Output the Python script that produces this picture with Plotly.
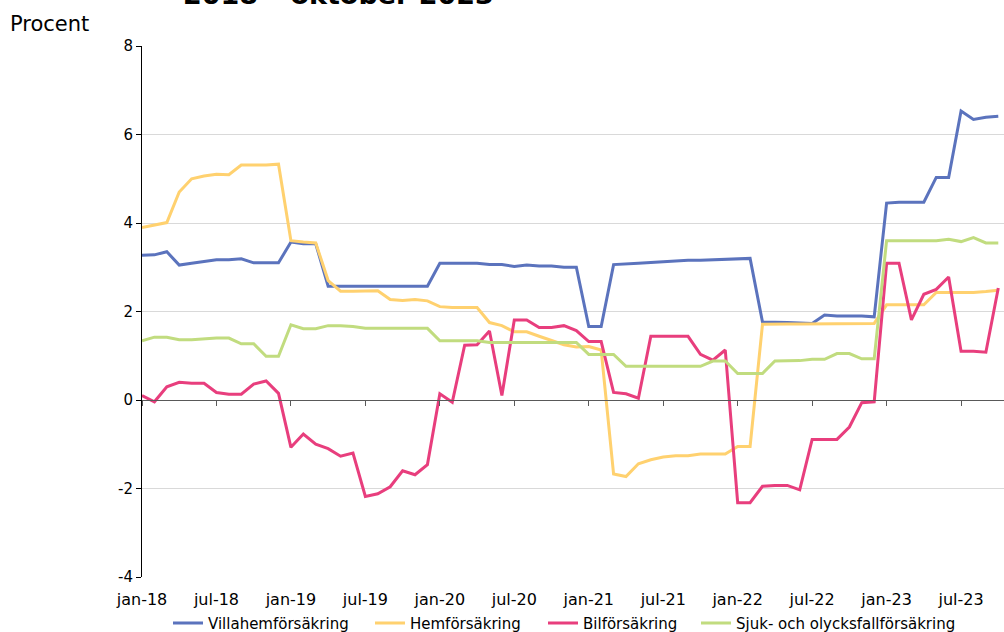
import plotly.graph_objects as go

# Monthly categories, jan-18 .. okt-23
month_abbr = ["jan", "feb", "mar", "apr", "maj", "jun",
              "jul", "aug", "sep", "okt", "nov", "dec"]
months = [f"{m}-{y:02d}" for y in range(18, 24) for m in month_abbr][:70]
tick_labels = months[::6]

y_ticks = [-4, -2, 0, 2, 4, 6, 8]
y_tick_text = ["-4", "-2", "0", "2", "4", "6", "8"]

# Annual price change, percent
villahem = [3.27, 3.28, 3.35, 3.05, 3.09, 3.13, 3.17, 3.17, 3.19, 3.10, 3.10, 3.10,
            3.57, 3.53, 3.53, 2.57, 2.57, 2.57, 2.57, 2.57, 2.57, 2.57, 2.57, 2.57,
            3.09, 3.09, 3.09, 3.09, 3.06, 3.06, 3.02, 3.05, 3.03, 3.03, 3.00, 3.00,
            1.66, 1.66, 3.06, 3.07, 3.09, 3.11, 3.13, 3.15, 3.16, 3.16, 3.17, 3.18,
            3.20, 3.20, 1.76, 1.76, 1.75, 1.74, 1.73, 1.92, 1.90, 1.90, 1.90, 1.88,
            4.45, 4.47, 4.47, 4.47, 5.03, 5.03, 6.53, 6.34, 6.39, 6.41]

hem = [3.90, 3.95, 4.01, 4.70, 5.00, 5.06, 5.10, 5.09, 5.31, 5.31, 5.31, 5.33,
       3.60, 3.57, 3.55, 2.70, 2.46, 2.46, 2.46, 2.47, 2.27, 2.25, 2.27, 2.24,
       2.11, 2.09, 2.09, 2.09, 1.75, 1.68, 1.54, 1.54, 1.44, 1.34, 1.25, 1.20,
       1.21, 1.13, -1.67, -1.73, -1.44, -1.35, -1.29, -1.26, -1.26, -1.22, -1.22, -1.22,
       -1.05, -1.05, 1.71, 1.72, 1.72, 1.72, 1.72, 1.72, 1.72, 1.72, 1.72, 1.73,
       2.15, 2.15, 2.15, 2.15, 2.43, 2.43, 2.43, 2.43, 2.45, 2.48]

bil = [0.10, -0.04, 0.30, 0.40, 0.38, 0.38, 0.17, 0.13, 0.13, 0.36, 0.43, 0.15,
       -1.07, -0.77, -1.00, -1.10, -1.27, -1.20, -2.18, -2.12, -1.96, -1.60, -1.69, -1.46,
       0.14, -0.05, 1.24, 1.25, 1.56, 0.10, 1.81, 1.81, 1.64, 1.64, 1.68, 1.57,
       1.32, 1.32, 0.17, 0.14, 0.04, 1.44, 1.44, 1.44, 1.44, 1.03, 0.90, 1.13,
       -2.32, -2.32, -1.95, -1.93, -1.93, -2.03, -0.89, -0.89, -0.89, -0.61, -0.06, -0.04,
       3.09, 3.09, 1.81, 2.39, 2.50, 2.78, 1.10, 1.10, 1.08, 2.53]

sjuk_olycksfall = [1.34, 1.42, 1.42, 1.36, 1.36, 1.38, 1.40, 1.40, 1.27, 1.27, 0.99, 0.99,
                   1.70, 1.61, 1.61, 1.68, 1.68, 1.66, 1.62, 1.62, 1.62, 1.62, 1.62, 1.62,
                   1.34, 1.34, 1.34, 1.34, 1.30, 1.30, 1.30, 1.30, 1.30, 1.30, 1.30, 1.30,
                   1.03, 1.03, 1.03, 0.76, 0.76, 0.76, 0.76, 0.76, 0.76, 0.76, 0.88, 0.88,
                   0.60, 0.60, 0.60, 0.88, 0.88, 0.89, 0.92, 0.92, 1.05, 1.05, 0.93, 0.93,
                   3.60, 3.60, 3.60, 3.60, 3.60, 3.63, 3.58, 3.67, 3.55, 3.55]

series = [
    ("Villahemförsäkring", villahem, "#5b73bd"),
    ("Hemförsäkring", hem, "#ffd16f"),
    ("Bilförsäkring", bil, "#e83e7d"),
    ("Sjuk- och olycksfallförsäkring", sjuk_olycksfall, "#c1dc7f"),
]

FONT = "DejaVu Sans"
PLOT_LEFT, PLOT_WIDTH = 142, 862

# One legend box per series so each entry sits at its own spot along the bottom
legend_ids = ["legend", "legend2", "legend3", "legend4"]
legend_text_x = [208, 410, 583, 736]   # left edge of each entry's label, px

fig = go.Figure()
for (name, values, color), lid in zip(series, legend_ids):
    fig.add_trace(go.Scatter(
        x=months, y=values, name=name, mode="lines",
        legend=lid,
        line=dict(color=color, width=3),
        hoverinfo="skip",
    ))

legend_boxes = {}
for lid, tx in zip(legend_ids, legend_text_x):
    legend_boxes[lid] = dict(
        orientation="h", xref="paper",
        x=(tx - 40 - PLOT_LEFT) / PLOT_WIDTH, xanchor="left",
        yref="container", y=0.04, yanchor="top",
        font=dict(family=FONT, size=15, color="#000000"),
        itemwidth=30, bgcolor="rgba(0,0,0,0)",
    )

fig.update_layout(
    width=1004, height=632,
    margin=dict(l=PLOT_LEFT, r=0, t=46, b=55, autoexpand=False),
    paper_bgcolor="white", plot_bgcolor="white",
    font=dict(family=FONT, size=15, color="#000000"),
    showlegend=True,
    **legend_boxes,
    xaxis=dict(
        type="category", categoryorder="array", categoryarray=months,
        range=[0, 69.46], automargin=False,
        anchor="free", position=1 / 3,
        showline=True, linecolor="#595959", linewidth=1,
        ticks="outside", ticklen=5, tickcolor="#595959",
        tickmode="array", tickvals=tick_labels, ticktext=tick_labels,
        ticklabelstandoff=180,
        tickfont=dict(family=FONT, size=16, color="#000000"),
        showgrid=False, zeroline=False,
    ),
    yaxis=dict(
        range=[-4, 8], automargin=False,
        tickmode="array", tickvals=y_ticks, ticktext=y_tick_text,
        showline=True, linecolor="#000000", linewidth=1,
        ticks="outside", ticklen=5, tickcolor="#000000",
        showgrid=True, gridcolor="#d9d9d9", gridwidth=1,
        zeroline=False,
        tickfont=dict(family=FONT, size=15, color="#000000"),
    ),
    annotations=[
        dict(text="<b>2018 – oktober 2023</b>", xref="paper", yref="paper",
             x=0.2274, y=1, xanchor="center", yanchor="bottom", yshift=34,
             showarrow=False, font=dict(family=FONT, size=27, color="#000000")),
        dict(text="Procent", xref="paper", yref="paper",
             x=-0.1555, y=1, xanchor="left", yanchor="bottom", yshift=8,
             showarrow=False, font=dict(family=FONT, size=21, color="#000000")),
    ],
)

fig.write_html("out.html")
